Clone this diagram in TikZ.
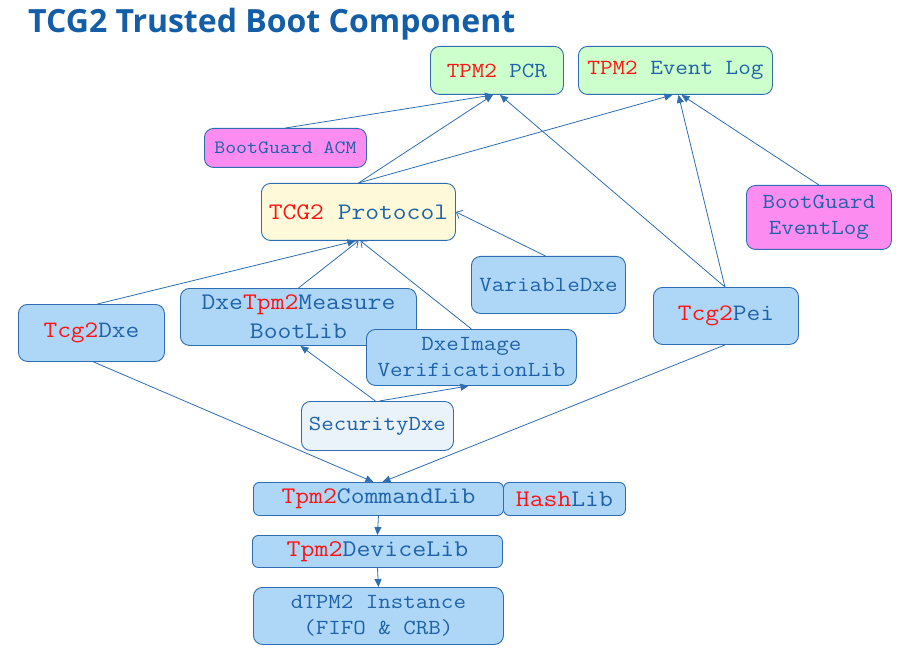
\documentclass[tikz,border=0pt]{standalone}
\usepackage{fontspec}
\usetikzlibrary{arrows.meta,calc}
\newfontfamily\mono{Latin Modern Mono}[FakeStretch=1.13]
\newfontfamily\titlefont{Open Sans}
\definecolor{tblue}{HTML}{1F62A8}
\definecolor{tred}{HTML}{FF1414}
\definecolor{bord}{HTML}{2E6DB2}
\definecolor{lblue}{HTML}{AED7F7}
\definecolor{lgreen}{HTML}{CCFFCC}
\definecolor{lyellow}{HTML}{FEF9D9}
\definecolor{lmag}{HTML}{FD8CF1}
\definecolor{lsec}{HTML}{EAF2FA}
\definecolor{ttl}{HTML}{135EA7}
\newcommand{\R}[1]{\textcolor{tred}{#1}}
\tikzset{
  box/.style={draw=bord, rounded corners=9pt, line width=0.9pt, text=tblue,
    inner sep=0pt, anchor=north west, align=center},
  conn/.style={draw=bord, line width=0.8pt},
  fa/.style={conn, -{Triangle[length=8pt,width=7pt]}},
  oa/.style={conn, -{Straight Barb[length=5pt,width=9pt,line width=0.8pt]}}
}
\begin{document}
\begin{tikzpicture}[x=1pt,y=-1pt]
\useasboundingbox (0,0) rectangle (907,652);
\node[anchor=base west, inner sep=0pt, text=ttl, font=\titlefont\bfseries\fontsize{32}{36}\selectfont] (title) at (28,33) {TCG2 Trusted Boot Component};

\node[box, fill=lgreen, minimum width=133pt, minimum height=48pt, font=\mono\fontsize{21.5}{26}\selectfont] (pcr) at (430,46) {\R{TPM2} PCR};
\node[box, fill=lgreen, minimum width=194pt, minimum height=48pt, font=\mono\fontsize{21.6}{26}\selectfont] (elog) at (578,46) {\R{TPM2} Event Log};
\node[box, fill=lmag, minimum width=162pt, minimum height=39pt, font=\mono\fontsize{18.8}{23}\selectfont] (acm) at (204,128) {BootGuard ACM};
\node[box, fill=lyellow, minimum width=194pt, minimum height=57pt, font=\mono\fontsize{23.7}{28}\selectfont] (proto) at (261,183) {\R{TCG2} Protocol};
\node[box, fill=lmag, minimum width=145pt, minimum height=64pt, font=\mono\fontsize{21.5}{26}\selectfont] (bgel) at (746,185) {BootGuard\\EventLog};
\node[box, fill=lblue, minimum width=154pt, minimum height=57pt, font=\mono\fontsize{21.6}{26}\selectfont] (var) at (471,256) {VariableDxe};
\node[box, fill=lblue, minimum width=145pt, minimum height=57pt, font=\mono\fontsize{23.6}{28}\selectfont] (pei) at (653,287) {\R{Tcg2}Pei};
\node[box, fill=lblue, minimum width=146pt, minimum height=57pt, font=\mono\fontsize{23.5}{28}\selectfont] (dxe) at (18,304) {\R{Tcg2}Dxe};
\node[box, fill=lblue, minimum width=236pt, minimum height=57pt, font=\mono\fontsize{23.8}{29}\selectfont] (mbl) at (180,288) {Dxe\R{Tpm2}Measure\\BootLib};
\node[box, fill=lblue, minimum width=210pt, minimum height=56pt, font=\mono\fontsize{21.5}{26}\selectfont] (ivl) at (366,329) {DxeImage\\VerificationLib};
\node[box, fill=lsec, minimum width=152pt, minimum height=49pt, font=\mono\fontsize{21.4}{26}\selectfont] (sec) at (301,401) {SecurityDxe};
\node[box, fill=lblue, rounded corners=6pt, minimum width=250pt, minimum height=33pt, font=\mono\fontsize{23.8}{28}\selectfont] (cmd) at (253,482) {\R{Tpm2}CommandLib};
\node[box, fill=lblue, rounded corners=6pt, minimum width=122pt, minimum height=33pt, font=\mono\fontsize{23.8}{28}\selectfont] (hash) at (503,482) {\R{Hash}Lib};
\node[box, fill=lblue, rounded corners=6pt, minimum width=250pt, minimum height=32pt, font=\mono\fontsize{24}{28}\selectfont] (dev) at (252,535) {\R{Tpm2}DeviceLib};
\node[box, fill=lblue, minimum width=250pt, minimum height=57pt, font=\mono\fontsize{21.5}{26}\selectfont] (dtpm) at (253,587) {dTPM2 Instance\\(FIFO \& CRB)};

% connectors to PCR / Event Log
\draw[fa] (acm.north) -- ($(pcr.south)+(-4,0)$);
\draw[fa] (proto.north) -- ($(pcr.south)+(-4,0)$);
\draw[fa] (proto.north) -- ($(elog.south)+(-3,0)$);
\draw[fa] ($(pei.north)+(-1,0)$) -- ($(pcr.south)+(3,0)$);
\draw[fa] ($(pei.north)+(-1,0)$) -- ($(elog.south)+(3,0)$);
\draw[fa] (bgel.north) -- ($(elog.south)+(6,0)$);
% connectors to Protocol
\draw[fa] ($(dxe.north)+(6,0)$) -- ($(proto.south)+(-3,0)$);
\draw[oa] (mbl.north) -- (proto.south);
\draw[oa] (ivl.north) -- ($(proto.south)+(2,0)$);
\draw[oa] ($(var.north)+(-3,0)$) -- (proto.east);
% SecurityDxe
\draw[fa] ($(sec.north)+(-2,0)$) -- ($(mbl.south)+(2,0)$);
\draw[fa] ($(sec.north)+(2,0)$) -- ($(ivl.south)+(-3,0)$);
% to CommandLib
\draw[fa] ($(dxe.south)+(2,0)$) -- ($(cmd.north)+(-5,0)$);
\draw[fa] ($(pei.south)+(-1,0)$) -- ($(cmd.north)+(4,0)$);
\draw[fa] (cmd.south) -- (dev.north);
\draw[fa] (dev.south) -- (dtpm.north);
\end{tikzpicture}
\end{document}
